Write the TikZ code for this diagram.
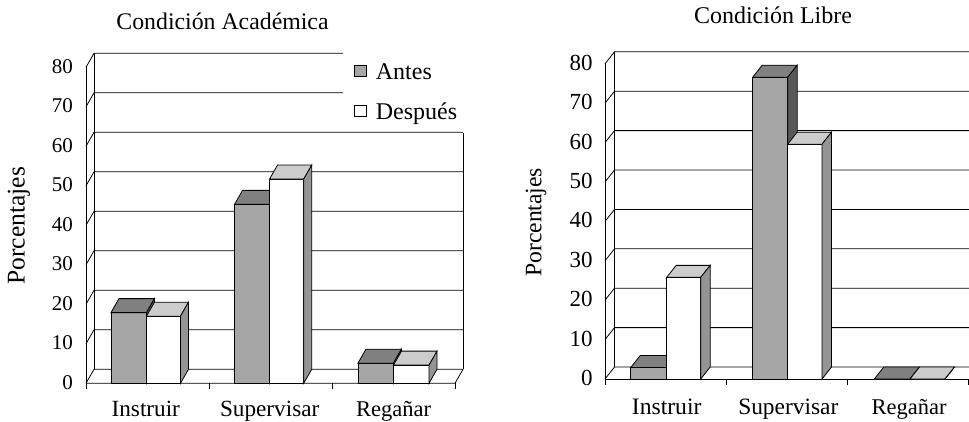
\documentclass[tikz,border=0pt]{standalone}
\usepackage{fontspec}
\setmainfont{Liberation Serif}
\colorlet{antes}{black!35}
\colorlet{antestop}{black!50}
\colorlet{antesside}{black!65}
\colorlet{despuestop}{black!20}
\colorlet{despuesside}{black!42}
\newcommand{\txtsize}[1]{\fontsize{#1}{#1}\selectfont}
\newcommand{\chartbar}[7]{%
  \filldraw [fill=#5] (#1,#3) rectangle (#1+#2,#3-#4*\vscale);
  \filldraw [fill=#6] (#1,#3-#4*\vscale) -- ++(\depx,\depy) -- ++(#2,0) -- (#1+#2,#3-#4*\vscale) -- cycle;
  \filldraw [fill=#7] (#1+#2,#3) -- ++(\depx,\depy) -- ++(0,-#4*\vscale) -- (#1+#2,#3-#4*\vscale) -- cycle;
}

\begin{document}
\begin{tikzpicture}[x=1pt,y=-1pt,inner sep=0pt,line width=0.8pt]
\useasboundingbox (0,0) rectangle (969,421);

\def\depx{8}\def\depy{-14}\def\vscale{3.95}
\foreach \k in {0,...,8} {
  \pgfmathsetmacro{\xr}{\k>6 ? 343 : 463}
  \draw (86,383.3-\k*39.5) -- ++(\depx,\depy) -- (\xr,369.3-\k*39.5);
  \node [anchor=base east] (ejeA\k) at (73.3,389-\k*39.5) {\txtsize{21}\pgfmathprint{int(\k*10)}};
}
\draw (86,383.3) -- (86,67.3);
\draw (94,369.3) -- (94,53.3);
\draw (463,369.3) -- (463,132.7);
\draw (86,383.3) -- (455,383.3) -- ++(\depx,\depy);
\foreach \x in {86,209,332,455}
  \draw (\x,383.3) -- (\x,389.3);
\chartbar{111}{35.5}{383.3}{17.9}{antes}{antestop}{antesside}
\chartbar{146.5}{34}{383.3}{17.0}{white}{despuestop}{despuesside}
\chartbar{234.5}{35}{383.3}{45.3}{antes}{antestop}{antesside}
\chartbar{269.5}{34.2}{383.3}{51.7}{white}{despuestop}{despuesside}
\chartbar{358}{35.5}{383.3}{5.1}{antes}{antestop}{antesside}
\chartbar{393.5}{35.5}{383.3}{4.6}{white}{despuestop}{despuesside}
\filldraw [fill=antes] (354,65) rectangle (366.7,76.7);
\draw (354,105) rectangle (366.7,116.7);
\node [anchor=base west] (leyAntes) at (375.5,79.3) {\txtsize{24}Antes};
\node [anchor=base west] (leyDespues) at (375.5,119) {\txtsize{24}Después};
\node [anchor=base] (tituloAcad) at (222.5,29.5) {\txtsize{23.8}Condición Académica};
\node [rotate=90] (porcA) at (19,225.8) {\txtsize{25.5}Porcentajes};
\node [anchor=base] (instA) at (145.8,416.5) {\txtsize{23.2}Instruir};
\node [anchor=base] (supA) at (269.7,416.5) {\txtsize{23.2}Supervisar};
\node [anchor=base] (regA) at (393.7,416.5) {\txtsize{22.5}Regañar};

\def\depx{9.5}\def\depy{-12}\def\vscale{3.94}
\foreach \k in {0,...,8} {
  \draw (605,379-\k*39.4) -- ++(\depx,\depy) -- (969,367-\k*39.4);
  \node [anchor=base east] (ejeL\k) at (593,385.5-\k*39.4) {\txtsize{23}\pgfmathprint{int(\k*10)}};
}
\draw (605,379) -- (605,63.8);
\draw (614.5,367) -- (614.5,51.8);
\draw (605,379) -- (969,379);
\foreach \x in {605,726,847,968}
  \draw (\x,379) -- (\x,385);
\chartbar{630.7}{36}{379}{2.9}{antes}{antestop}{antesside}
\chartbar{666.7}{34}{379}{25.8}{white}{despuestop}{despuesside}
\chartbar{752.7}{35}{379}{76.6}{antes}{antestop}{antesside}
\chartbar{787.7}{34.3}{379}{59.6}{white}{despuestop}{despuesside}
\chartbar{874.3}{35.7}{379}{0}{antes}{antestop}{antesside}
\chartbar{910}{35}{379}{0}{white}{despuestop}{despuesside}
\node [anchor=base] (tituloLibre) at (773,23.3) {\txtsize{24}Condición Libre};
\node [rotate=90] (porcL) at (536,222.3) {\txtsize{23.6}Porcentajes};
\node [anchor=base] (instL) at (666.7,414) {\txtsize{23.6}Instruir};
\node [anchor=base] (supL) at (788.3,414) {\txtsize{23.4}Supervisar};
\node [anchor=base] (regL) at (909.2,414) {\txtsize{22.5}Regañar};
\end{tikzpicture}
\end{document}
